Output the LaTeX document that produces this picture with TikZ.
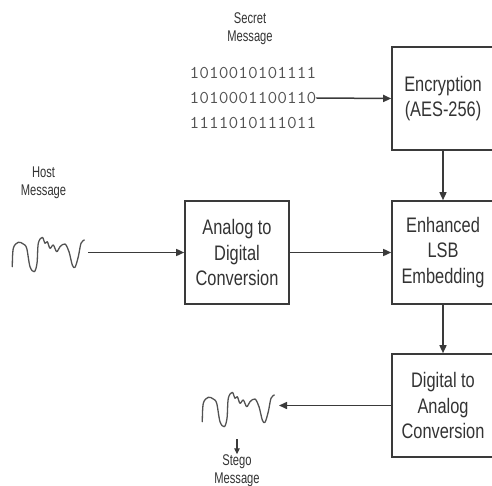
\documentclass[tikz,border=0pt]{standalone}
\usepackage{fontspec}
\setmainfont{Liberation Sans}
\newfontfamily\boxfont[FakeStretch=0.78]{Liberation Sans}
\newfontfamily\lblfont[FakeStretch=0.72]{Liberation Sans}
\newfontfamily\binfont[FakeStretch=1.05]{Latin Modern Mono}
\usetikzlibrary{arrows.meta}
\definecolor{ink}{HTML}{333333}
\definecolor{lineink}{HTML}{3A3A3A}
\begin{document}
\begin{tikzpicture}[x=1pt,y=-1pt,
  blk/.style={draw=lineink,line width=1.6pt,text=ink,align=center,inner sep=0pt,
     minimum width=102pt,minimum height=103pt,
     font=\boxfont\fontsize{21}{25.5}\selectfont},
  lbl/.style={text=ink,align=center,inner sep=0pt,
     font=\lblfont\fontsize{15.5}{18}\selectfont},
  conn/.style={draw=lineink,line width=1.5pt,-{Triangle[length=8pt,width=7pt]}},
  wave/.style={draw=ink!85,line width=1.3pt,line join=round,line cap=round}]
\useasboundingbox (0,0) rectangle (492,486);
% boxes
\node[blk] (enc) at (443,98.5) {Encryption\\(AES-256)};
\node[blk] (emb) at (443,252.5) {Enhanced\\LSB\\Embedding};
\node[blk] (dac) at (443,405.5) {Digital to\\Analog\\Conversion};
\node[blk,minimum width=104pt] (adc) at (237,252.5) {Analog to\\Digital\\Conversion};
% labels
\node[lbl] (secret) at (250,29) {Secret\\Message};
\node[lbl] (host) at (43.5,183) {Host\\Message};
\node[lbl] (stego) at (237,470.5) {Stego\\Message};
\node[text=ink!85,align=left,inner sep=0pt,font=\binfont\fontsize{18}{25}\selectfont] (bin) at (253,98)
  {1010010101111\\1010001100110\\1111010111011};
% waves
\foreach \dx/\dy in {0/0,190/155}{
\begin{scope}[shift={(\dx,\dy)}]
\draw[wave] plot[smooth,tension=0.55] coordinates {
 (12.3,266.7) (13.3,248.3) (18.3,242.3) (23.3,244) (26.7,248.3) (30,266.7)
 (34.3,271.7) (37,263.3) (38.3,243.3) (42.3,237.3) (45,243.3) (47.3,241.7)
 (50,248.3) (53.3,245) (56.7,251.7) (60,246.7) (65,244) (69,251.7)
 (72.3,265) (75,267.3) (78.3,256.7) (81,243.3) (84.3,240)};
\end{scope}}
\coordinate (hostw) at (88,252.5);
\coordinate (stegow) at (279,405.5);
\coordinate (stegotop) at (237,439);
% connectors
\draw[conn] (bin.east) -- (enc.west);
\draw[conn] (enc.south) -- (emb.north);
\draw[conn] (emb.south) -- (dac.north);
\draw[conn] (hostw) -- (adc.west);
\draw[conn] (adc.east) -- (emb.west);
\draw[conn] (dac.west) -- (stegow);
\draw[draw=lineink,line width=1.2pt,-{Triangle[length=6pt,width=5.5pt]}] (stegotop) -- (stego.north);
\end{tikzpicture}
\end{document}
